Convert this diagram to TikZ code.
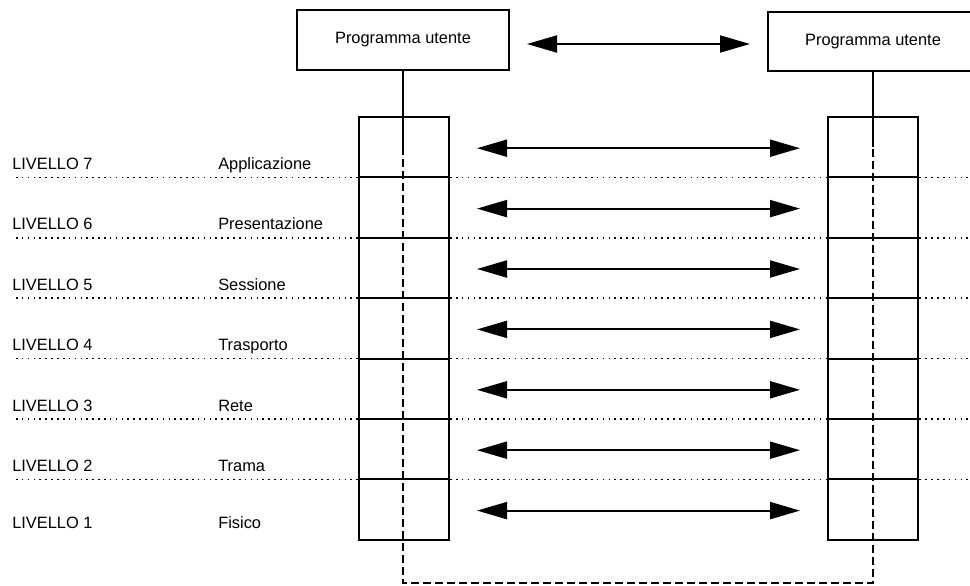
\documentclass[tikz,border=0pt]{standalone}
\usepackage{fontspec}
\setmainfont{Liberation Sans}
\usetikzlibrary{arrows.meta}

\begin{document}
\begin{tikzpicture}[x=0.75pt,y=-0.75pt,
  every node/.style={font=\fontsize{12.3pt}{14pt}\selectfont},
  progbox/.style={draw, line width=1.6pt, minimum height=44.5pt, inner sep=0pt, outer sep=0pt},
  cell/.style={draw, line width=1.6pt, minimum width=67.5pt, minimum height=45.3pt, inner sep=0pt, outer sep=0pt},
  sep/.style={line width=1.1pt, dash pattern=on 1.2pt off 3.2pt},
  link/.style={line width=1.6pt},
  virt/.style={line width=1.6pt, dash pattern=on 6pt off 3pt},
  peer/.style={line width=1.5pt, {Triangle[length=22.5pt,width=12.75pt]}-{Triangle[length=22.5pt,width=12.75pt]}},
  lbl/.style={anchor=base west, inner sep=0pt}
]
\useasboundingbox (0,0) rectangle (970,585);
\clip (0,0) rectangle (970,585);

% user programs at the top
\node[progbox, minimum width=159pt] (pl) at (403,40) {Programma utente};
\node[progbox, minimum width=157.5pt] (pr) at (873,41.5) {Programma utente};
\coordinate (tl) at (527,44);
\coordinate (tr) at (750,44);
\draw[peer] (tl) -- (tr);

% layer names, separators, stacks and peer arrows
\foreach \n/\name in {7/Applicazione,6/Presentazione,5/Sessione,4/Trasporto,3/Rete,2/Trama,1/Fisico}{
  \pgfmathsetmacro{\ytop}{117+60.4*(7-\n)}
  \pgfmathsetmacro{\ymid}{\ytop+30.2+1}
  \pgfmathsetmacro{\ybot}{\ytop+60.4}
  \pgfmathsetmacro{\ybase}{\n==1 ? 528 : \ybot-8}
  \ifnum\n>1
    \coordinate (sa\n) at (16,\ybot);
    \coordinate (sb\n) at (970,\ybot);
    \draw[sep] (sa\n) -- (sb\n);
  \fi
  \node[cell] (l\n) at (404,\ytop+30.2) {};
  \node[cell] (r\n) at (873,\ytop+30.2) {};
  \node[lbl] (lv\n) at (12,\ybase) {LIVELLO \n};
  \node[lbl] (nm\n) at (218,\ybase) {\name};
  \coordinate (aa\n) at (477,\ymid);
  \coordinate (ab\n) at (800,\ymid);
  \draw[peer] (aa\n) -- (ab\n);
}

% physical path through the stacks
\coordinate (ls) at (pl.south |- 0,147);
\coordinate (rs) at (pr.south |- 0,147);
\coordinate (lb) at (pl.south |- 0,583);
\coordinate (rb) at (pr.south |- 0,583);
\draw[link] (pl.south) -- (ls);
\draw[link] (pr.south) -- (rs);
\draw[virt] (ls) -- (lb) -- (rb) -- (rs);
\end{tikzpicture}
\end{document}
